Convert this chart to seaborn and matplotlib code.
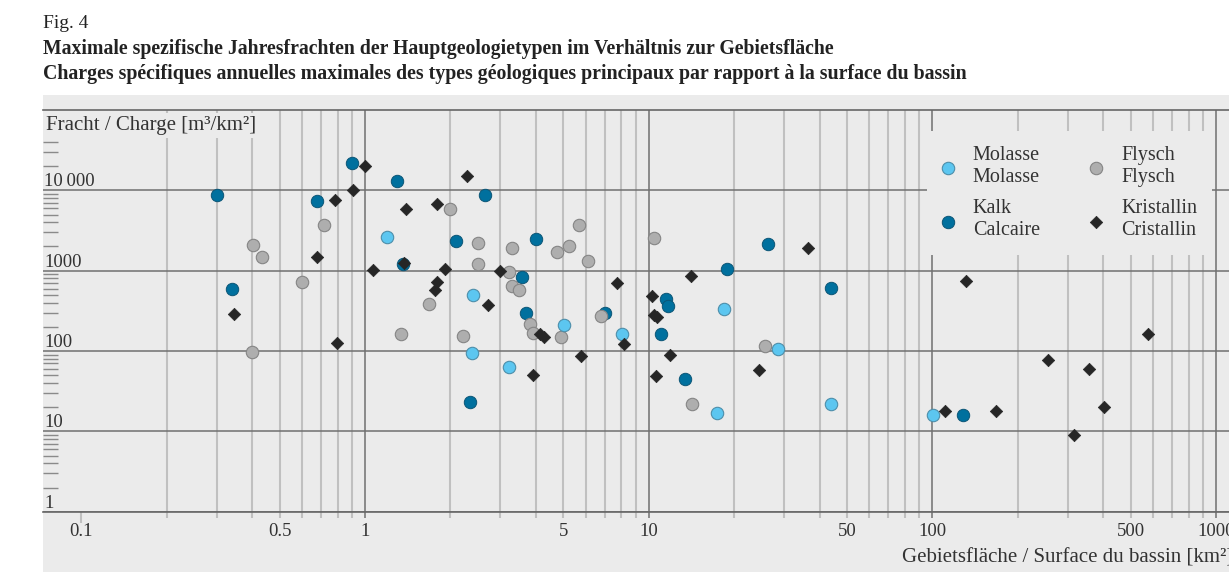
import pandas as pd
import matplotlib
matplotlib.use("Agg")
import matplotlib.pyplot as plt
import seaborn as sns
from matplotlib.patches import Rectangle
from matplotlib.ticker import FixedLocator, FixedFormatter, NullFormatter

# Werte (Fläche km2, Fracht m3/km2)
molasse_flaeche = [1.195, 2.40, 2.39, 3.23, 5.02, 8.07, 18.5, 28.5, 17.4, 43.8, 100.3]
molasse_fracht = [2600, 504, 95, 64, 212, 163, 338, 106, 17.1, 22.2, 16.2]

kalk_flaeche = [0.300, 0.340, 0.676, 0.898, 1.293, 1.365, 2.094, 2.648, 2.345, 3.567, 3.686,
                3.998, 7.015, 11.48, 11.67, 11.02, 13.46, 18.83, 26.4, 43.8, 127.9]
kalk_fracht = [8660, 599, 7360, 22100, 13050, 1200, 2370, 8840, 23.1, 844, 298,
               2507, 298, 441, 361, 165, 44.6, 1062, 2148, 616, 16.2]

flysch_flaeche = [0.402, 0.4345, 0.600, 0.719, 0.3997, 1.339, 1.685, 1.997, 2.207, 2.496, 2.496,
                  3.305, 3.213, 3.305, 3.499, 3.801, 3.895, 4.741, 5.237, 5.693, 6.095, 4.888,
                  6.79, 10.41, 14.18, 25.7]
flysch_fracht = [2112, 1481, 728, 3691, 96, 161, 390, 5904, 153, 2211, 1208,
                 1938, 972, 640, 582, 214, 169, 1719, 2040, 3670, 1302, 148,
                 272, 2580, 22.2, 114]

krist_flaeche = [0.344, 0.676, 0.785, 0.799, 0.905, 1.0, 1.07, 1.37, 1.395, 1.794, 1.916,
                 1.791, 1.765, 2.294, 2.703, 2.991, 3.90, 4.155, 4.292, 5.796, 7.713, 8.204,
                 10.27, 10.4, 10.7, 10.59, 11.87, 14.1, 24.5, 36.35, 110.8, 131.3, 167.5,
                 256.2, 316.4, 355.6, 403.6, 576.8]
krist_fracht = [291, 1481, 7600, 125, 10200, 20350, 1020, 1229, 5888, 6698, 1041,
                728, 570, 15150, 371, 997, 51, 164, 151, 86, 711, 122,
                484, 283, 263, 49, 89, 852, 57.4, 1916, 18.0, 745, 18.0,
                78.4, 9.05, 58.9, 20.0, 161]

x_major = [1, 10, 100, 1000]
x_major_labels = ["1", "10", "100", "1000"]
x_minor = [0.1] + [m * 10.0 ** k for k in (-1, 0, 1, 2) for m in range(2, 10)]
x_minor_text = {0.1: "0.1", 0.5: "0.5", 5: "5", 50: "50", 500: "500"}
y_major = [1, 10, 100, 1000, 10000]
y_major_labels = ["1", "10", "100", "1000", "10\u2009000"]
y_minor = [m * 10.0 ** k for k in range(0, 5) for m in range(2, 10)]

sns.set_style("white")
plt.rcParams["font.family"] = ["Liberation Serif", "DejaVu Serif"]

bg = "#ebebeb"
dunkel = "#707070"
hell = "#c0c0c0"
schrift = "#333333"

W, H = 1229, 578
fig = plt.figure(figsize=(W / 100, H / 100), dpi=100)
fig.patches.append(Rectangle((43 / W, 1 - 572 / H), 1, (572 - 95) / H, transform=fig.transFigure,
                             facecolor=bg, edgecolor="none", zorder=-10))
ax = fig.add_axes([43 / W, 1 - 511.7 / H, 1205 / W, 401.7 / H])
ax.set_facecolor(bg)

sns.scatterplot(x=kalk_flaeche, y=kalk_fracht, ax=ax, marker="o", s=80, color="#00709e",
                edgecolor="#0b5576", linewidth=0.7, label="Kalk\nCalcaire", zorder=3)
sns.scatterplot(x=flysch_flaeche, y=flysch_fracht, ax=ax, marker="o", s=80, color="#aeaeae",
                edgecolor="#858585", linewidth=0.8, label="Flysch\nFlysch", zorder=4)
sns.scatterplot(x=molasse_flaeche, y=molasse_fracht, ax=ax, marker="o", s=80, color="#5cc6f0",
                edgecolor="#4d8eaa", linewidth=0.8, label="Molasse\nMolasse", zorder=5)
sns.scatterplot(x=krist_flaeche, y=krist_fracht, ax=ax, marker="D", s=40, color="#262626",
                edgecolor="#262626", linewidth=0.5, label="Kristallin\nCristallin", zorder=6)

ax.set_xscale("log")
ax.set_yscale("log")
ax.set_xlim(10 ** (-322 / 283.7), 10 ** (883 / 283.7))
ax.set_ylim(1, 1e5)

ax.xaxis.set_major_locator(FixedLocator(x_major))
ax.xaxis.set_major_formatter(FixedFormatter(x_major_labels))
ax.xaxis.set_minor_locator(FixedLocator(x_minor))
ax.xaxis.set_minor_formatter(FixedFormatter([x_minor_text.get(round(v, 6), "") for v in x_minor]))
ax.yaxis.set_major_locator(FixedLocator(y_major))
ax.yaxis.set_major_formatter(FixedFormatter(y_major_labels))
ax.yaxis.set_minor_locator(FixedLocator(y_minor))
ax.yaxis.set_minor_formatter(NullFormatter())

ax.set_axisbelow(True)
ax.grid(True, which="major", axis="both", color=dunkel, linewidth=1.1)
ax.grid(True, which="minor", axis="x", color=hell, linewidth=1.5)
ax.xaxis.get_minor_ticks()[0].gridline.set_visible(False)

ax.tick_params(axis="x", which="major", bottom=True, direction="out", length=4, width=1.1,
               color=dunkel, labelsize=13.5, pad=4, labelcolor=schrift)
ax.tick_params(axis="x", which="minor", bottom=True, direction="out", length=4, width=1.5,
               color=hell, labelsize=13.5, pad=4, labelcolor=schrift)
ax.xaxis.get_minor_ticks()[0].tick1line.set_markersize(8)
ax.xaxis.get_minor_ticks()[0].tick1line.set_color(dunkel)
ax.tick_params(axis="y", which="major", left=True, length=0, labelsize=13.5, pad=-1,
               labelcolor=schrift)
ax.tick_params(axis="y", which="minor", left=True, direction="in", length=10.8, width=1.0,
               color="#8a8a8a")
for lbl in ax.get_yticklabels():
    lbl.set_horizontalalignment("left")
    lbl.set_verticalalignment("bottom")

for s in ("left", "right"):
    ax.spines[s].set_visible(False)
for s in ("top", "bottom"):
    ax.spines[s].set_color("#666666")
    ax.spines[s].set_linewidth(1.2)

ax.text(3 / 1205, 1 - 20 / 401.7, "Fracht / Charge [m³/km²]", transform=ax.transAxes,
        ha="left", va="baseline", fontsize=15, color=schrift, zorder=1,
        bbox=dict(facecolor=bg, edgecolor="none", pad=2))
ax.set_xlabel("Gebietsfläche / Surface du bassin [km²]", fontsize=15, color=schrift)
ax.xaxis.set_label_coords((902 - 43) / 1205, (511.7 - 562) / 401.7)
ax.xaxis.label.set_horizontalalignment("left")
ax.xaxis.label.set_verticalalignment("baseline")

handles, labels = ax.get_legend_handles_labels()
order = [labels.index(l) for l in ["Molasse\nMolasse", "Kalk\nCalcaire", "Flysch\nFlysch", "Kristallin\nCristallin"]]
leg = ax.legend([handles[i] for i in order], [labels[i] for i in order], ncol=2, loc="upper left",
                bbox_to_anchor=(884 / 1205, 1 - 21 / 401.7), frameon=True, facecolor=bg,
                edgecolor="none", framealpha=1, fancybox=False, fontsize=14.5, borderaxespad=0,
                borderpad=0.75, handlelength=0.57, handletextpad=0.96, columnspacing=2.5,
                labelspacing=0.6)
leg.set_zorder(7)
for t in leg.get_texts():
    t.set_color(schrift)
    t.set_linespacing(1.22)

fig.text(43 / W, 1 - 28 / H, "Fig. 4", fontsize=14, color="#222222", va="baseline")
fig.text(43 / W, 1 - 54 / H,
         "Maximale spezifische Jahresfrachten der Hauptgeologietypen im Verhältnis zur Gebietsfläche",
         fontsize=14.25, fontweight="bold", color="#222222", va="baseline")
fig.text(43 / W, 1 - 79 / H,
         "Charges spécifiques annuelles maximales des types géologiques principaux par rapport à la surface du bassin",
         fontsize=14.35, fontweight="bold", color="#222222", va="baseline")

fig.savefig("out.png", dpi=100)
